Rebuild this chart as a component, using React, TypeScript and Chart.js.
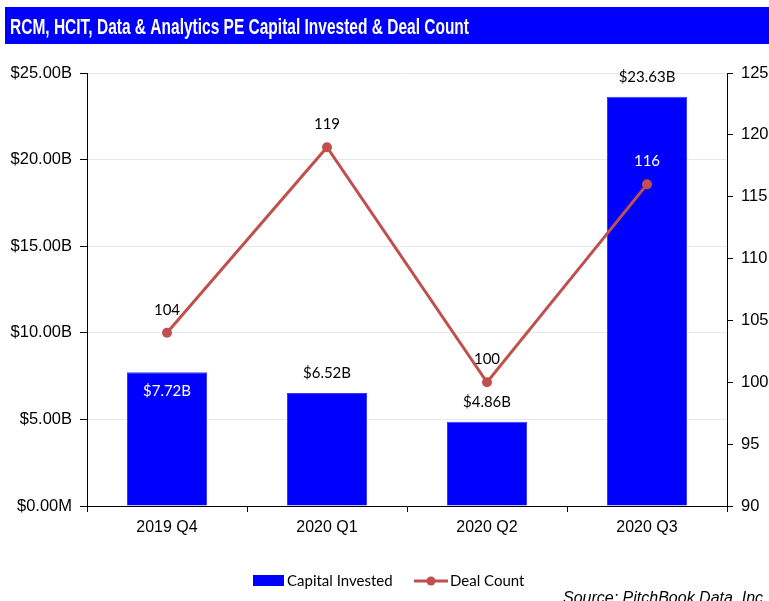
import React, { useEffect, useRef } from 'react';
import { Chart, registerables } from 'chart.js';

Chart.register(...registerables);

const TITLE = 'RCM, HCIT, Data & Analytics PE Capital Invested & Deal Count';
const SOURCE = 'Source: PitchBook Data, Inc.';
const categories = ['2019 Q4', '2020 Q1', '2020 Q2', '2020 Q3'];
const capitalInvested = [7.72, 6.52, 4.86, 23.63];
const dealCount = [104, 119, 100, 116];
const leftMin = 0;
const leftMax = 25;
const leftStep = 5;
const rightMin = 90;
const rightMax = 125;
const rightStep = 5;
// label styling per point (inside bar / white text)
const capitalLabelInside = [true, false, false, false];
const dealLabelWhite = [false, false, false, true];

const BLUE = '#0000FF';
const RED = '#C0504D';
const AXIS_FONT = '"Liberation Sans", Arial, sans-serif';
const LABEL_FONT = 'Lato, "Open Sans", sans-serif';

const fmtMoney = (v: number) => (v === 0 ? '$0.00M' : `$${v.toFixed(2)}B`);

const overlayPlugin = {
  id: 'overlay',
  beforeDraw(chart: any) {
    const ctx = chart.ctx;
    ctx.save();
    ctx.fillStyle = '#fff';
    ctx.fillRect(0, 0, chart.width, chart.height);
    // title bar
    ctx.fillStyle = BLUE;
    ctx.fillRect(5, 7, chart.width - 5, 37);
    ctx.font = 'bold 22px "Liberation Sans Narrow", "Liberation Sans", Arial, sans-serif';
    const w = ctx.measureText(TITLE).width;
    const sx = 459 / w;
    ctx.translate(10, 34);
    ctx.scale(sx, 1);
    ctx.fillStyle = '#fff';
    ctx.textBaseline = 'alphabetic';
    ctx.textAlign = 'left';
    ctx.fillText(TITLE, 0, 0);
    ctx.restore();
  },
  afterDatasetsDraw(chart: any) {
    const ctx = chart.ctx;
    ctx.save();
    ctx.font = '15px ' + LABEL_FONT;
    ctx.textAlign = 'center';
    ctx.textBaseline = 'middle';
    const barMeta = chart.getDatasetMeta(0);
    barMeta.data.forEach((el: any, i: number) => {
      const inside = capitalLabelInside[i];
      ctx.fillStyle = inside ? '#fff' : '#000';
      const y = inside ? el.y + 19 : el.y - 20;
      ctx.fillText(fmtMoney(capitalInvested[i]), el.x, y);
    });
    const lineMeta = chart.getDatasetMeta(1);
    lineMeta.data.forEach((el: any, i: number) => {
      ctx.fillStyle = dealLabelWhite[i] ? '#fff' : '#000';
      ctx.fillText(String(dealCount[i]), el.x, el.y - 23);
    });
    ctx.restore();
  },
  afterDraw(chart: any) {
    const ctx = chart.ctx;
    ctx.save();
    // legend
    ctx.fillStyle = BLUE;
    ctx.fillRect(253, 575, 31, 11);
    ctx.font = '15px ' + LABEL_FONT;
    ctx.textBaseline = 'middle';
    ctx.textAlign = 'left';
    ctx.fillStyle = '#000';
    ctx.fillText('Capital Invested', 287, 581);
    ctx.strokeStyle = RED;
    ctx.lineWidth = 3;
    ctx.beginPath();
    ctx.moveTo(414, 581);
    ctx.lineTo(448, 581);
    ctx.stroke();
    ctx.fillStyle = RED;
    ctx.beginPath();
    ctx.arc(431, 581, 4.5, 0, Math.PI * 2);
    ctx.fill();
    ctx.fillStyle = '#000';
    ctx.fillText('Deal Count', 450, 581);
    // source
    ctx.font = 'italic 16px ' + AXIS_FONT;
    ctx.textBaseline = 'alphabetic';
    ctx.fillText(SOURCE, 563, 603);
    ctx.restore();
  },
};

export default function App() {
  const ref = useRef<HTMLCanvasElement | null>(null);
  useEffect(() => {
    document.body.style.margin = '0';
    const canvas = ref.current;
    if (!canvas) return;
    const chart = new Chart(canvas, {
      data: {
        labels: categories,
        datasets: [
          {
            type: 'bar',
            label: 'Capital Invested',
            data: capitalInvested,
            backgroundColor: BLUE,
            borderColor: '#3a3aff',
            borderWidth: 1,
            barPercentage: 0.5,
            categoryPercentage: 1,
            yAxisID: 'y',
            order: 2,
          } as any,
          {
            type: 'line',
            label: 'Deal Count',
            data: dealCount,
            borderColor: RED,
            backgroundColor: RED,
            borderWidth: 3,
            pointRadius: 5,
            pointBackgroundColor: RED,
            pointBorderWidth: 0,
            tension: 0,
            yAxisID: 'y1',
            order: 1,
          } as any,
        ],
      },
      options: {
        responsive: false,
        animation: false,
        devicePixelRatio: 1,
        layout: { padding: { top: 73, left: 0, right: 0, bottom: 0 } },
        plugins: {
          legend: { display: false },
          tooltip: { enabled: false },
          title: { display: false },
        },
        scales: {
          x: {
            type: 'category',
            grid: { offset: true, drawOnChartArea: false, tickLength: 6, tickColor: '#000', color: '#000' },
            border: { display: true, color: '#000', width: 1 },
            ticks: { color: '#000', font: { family: AXIS_FONT, size: 16 }, padding: 6, maxRotation: 0 },
            afterFit: (s: any) => { s.height = 95; },
          },
          y: {
            type: 'linear',
            position: 'left',
            min: leftMin,
            max: leftMax,
            ticks: { stepSize: leftStep, color: '#000', font: { family: AXIS_FONT, size: 16.5 }, padding: 8, callback: (v: any) => fmtMoney(Number(v)) },
            grid: { color: '#e8e8e8', lineWidth: 1, tickLength: 7, tickColor: '#000' },
            border: { display: true, color: '#000', width: 1 },
            afterFit: (s: any) => { s.width = 87; },
          },
          y1: {
            type: 'linear',
            position: 'right',
            min: rightMin,
            max: rightMax,
            ticks: { stepSize: rightStep, color: '#000', font: { family: AXIS_FONT, size: 16.5 }, padding: 8 },
            grid: { drawOnChartArea: false, tickLength: 6, tickColor: '#000', color: '#000' },
            border: { display: true, color: '#000', width: 1 },
            afterFit: (s: any) => { s.width = 42; },
          },
        },
      } as any,
      plugins: [overlayPlugin],
    });
    return () => chart.destroy();
  }, []);
  return (
    <div style={{ position: 'absolute', left: 0, top: 0, width: 769, height: 601 }}>
      <canvas ref={ref} width={769} height={601} style={{ width: 769, height: 601, display: 'block' }} />
    </div>
  );
}
